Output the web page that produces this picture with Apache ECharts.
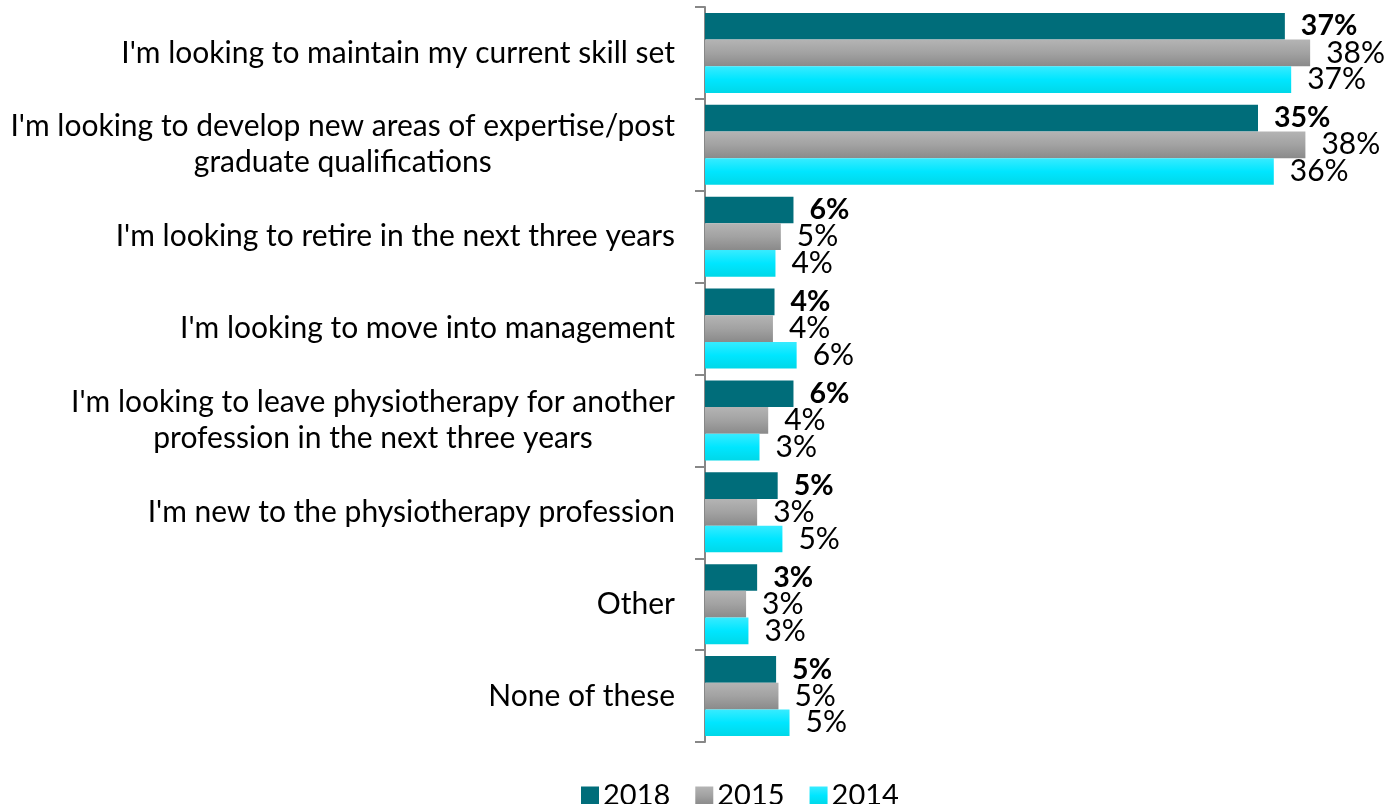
<!DOCTYPE html>
<html><head><meta charset="utf-8">
<script src="https://cdn.jsdelivr.net/npm/echarts@6/dist/echarts.min.js"></script>
<style>html,body{margin:0;padding:0;background:#fff}#c{width:1399px;height:804px}</style>
</head><body><div id="c"></div>
<script>
const categories = [
  "I'm looking to maintain my current skill set",
  "I'm looking to develop new areas of expertise/post\ngraduate qualifications",
  "I'm looking to retire in the next three years",
  "I'm looking to move into management",
  "I'm looking to leave physiotherapy for another\nprofession in the next three years",
  "I'm new to the physiotherapy profession",
  "Other",
  "None of these"
];
const seriesNames = ["2018", "2015", "2014"];
const values2018 = [36.7, 35.0, 5.6, 4.4, 5.6, 4.6, 3.3, 4.5];
const values2015 = [38.3, 38.0, 4.8, 4.3, 4.0, 3.3, 2.6, 4.65];
const values2014 = [37.1, 36.0, 4.46, 5.8, 3.45, 4.9, 2.75, 5.35];

const FONT = 'Lato';
const grad = (a, b, c) => new echarts.graphic.LinearGradient(0, 0, 0, 1, [
  {offset: 0, color: a}, {offset: 0.5, color: b}, {offset: 1, color: c}]);
const colors = ['#006D7A', grad('#B4B4B4', '#A2A2A2', '#8A8A8A'), grad('#38EBFF', '#00E6FF', '#00D8E8')];

function mk(name, data, idx) {
  return {
    name: name, type: 'bar', data: data,
    barGap: '0%', barCategoryGap: '13%',
    itemStyle: {color: colors[idx]},
    label: {
      show: true, position: 'right', distance: 16,
      fontFamily: FONT, fontSize: idx === 0 ? 28.5 : 30, color: '#000',
      fontWeight: idx === 0 ? 'bold' : 'normal',
      formatter: p => Math.round(p.value) + '%'
    }
  };
}

const chart = echarts.init(document.getElementById('c'));
chart.setOption({
  animation: false,
  textStyle: {fontFamily: FONT},
  grid: {left: 705, top: 7, width: 632, height: 735, containLabel: false},
  legend: {
    data: seriesNames, left: 576, top: 776, icon: 'rect',
    itemWidth: 18, itemHeight: 18, itemGap: 25,
    textStyle: {fontFamily: FONT, fontSize: 29, color: '#000', padding: [0, 0, 0, -1]}
  },
  xAxis: {type: 'value', min: 0, max: 40, show: false},
  yAxis: {
    type: 'category', inverse: true, data: categories,
    axisLine: {lineStyle: {color: '#878787', width: 2}},
    axisTick: {show: true, length: 10, lineStyle: {color: '#878787', width: 2}},
    axisLabel: {
      margin: 30, fontFamily: FONT, fontSize: 30, color: '#000',
      formatter: v => v.split('\n').map(l => '{c|' + l + '}').join('\n'),
      rich: {c: {align: 'center', fontFamily: FONT, fontSize: 30, color: '#000', lineHeight: 36}}
    }
  },
  series: [mk(seriesNames[0], values2018, 0), mk(seriesNames[1], values2015, 1), mk(seriesNames[2], values2014, 2)]
});
</script></body></html>
